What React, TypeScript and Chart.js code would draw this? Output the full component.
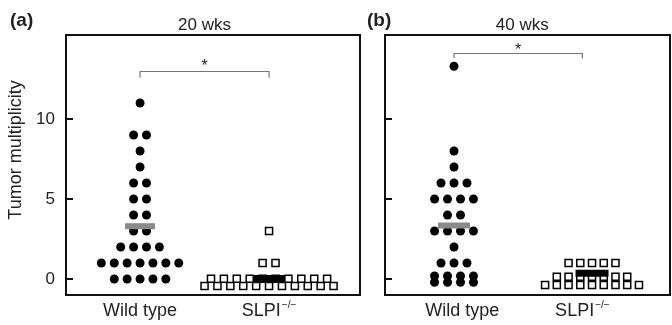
import React, { useEffect, useRef } from "react";
import { Chart, registerables } from "chart.js";

Chart.register(...registerables);

const FONT = "'Liberation Sans', Arial, Helvetica, sans-serif";

// ---------------- data ----------------
const groupLabels = ["Wild type", "SLPI"];
const groupSuperscripts = ["", "\u2212/\u2212"];
const yTickValues = [0, 5, 10];
const yAxisTitle = "Tumor multiplicity";
const panelLetters = ["(a)", "(b)"];
const panelTitles = ["20 wks", "40 wks"];
const significanceMarks = ["*", "*"];

// 20 weeks
const wildType20 = [11, 9, 9, 8, 7, 6, 6, 5, 5, 4, 4, 3, 3, 2, 2, 2, 2, 1, 1, 1, 1, 1, 1, 1, 0, 0, 0, 0, 0];
const slpi20 = [3, 1, 1, 0, 0, 0, 0, 0, 0, 0, 0, 0, 0, 0, 0, 0, 0, 0, 0, 0, 0, 0, 0, 0];
const wildType20Mean = 3.3;
const slpi20Mean = 0.03;

// 40 weeks
const wildType40 = [13.3, 8, 7, 6, 6, 6, 5, 5, 5, 5, 4, 4, 3, 3, 3, 3, 2, 1, 1, 1, 0, 0, 0, 0, 0, 0, 0, 0];
const slpi40 = [1, 1, 1, 1, 1, 0, 0, 0, 0, 0, 0, 0, 0, 0, 0, 0, 0, 0, 0, 0, 0];
const wildType40Mean = 3.35;
const slpi40Mean = 0.36;

// ---------------- layout helpers ----------------
type Pt = { x: number; y: number };

function swarm(values: number[], center: number, step: number, maxPerRow: number, splitDy: [number, number]): Pt[] {
  const counts = new Map<number, number>();
  for (const v of values) counts.set(v, (counts.get(v) ?? 0) + 1);
  const pts: Pt[] = [];
  counts.forEach((n, v) => {
    const rows = n > maxPerRow
      ? [{ n: n - maxPerRow, dy: splitDy[0] }, { n: maxPerRow, dy: splitDy[1] }]
      : [{ n, dy: 0 }];
    for (const r of rows) {
      for (let i = 0; i < r.n; i++) {
        pts.push({ x: center + (i - (r.n - 1) / 2) * step, y: v + r.dy });
      }
    }
  });
  return pts;
}

type PanelCfg = {
  idx: number;
  wt: number[];
  slpi: number[];
  wtMean: number;
  slpiMean: number;
  xMin: number;
  xMax: number;
  labelX: number[];
  bracketX: [number, number];
  bracketY: number;
  bracketDrop: number;
  starY: number;
  dotStep: number;
  squareStep: number;
  wtMax: number;
  slpiMax: number;
  wtSplit: [number, number];
  slpiSplit: [number, number];
  wtBarR: number;
  slpiBarR: number;
  canvasLeft: number;
  canvasWidth: number;
  areaLeft: number;
  areaRight: number;
  letterX: number;
  showTickLabels: boolean;
};

const panels: PanelCfg[] = [
  {
    idx: 0,
    wt: wildType20,
    slpi: slpi20,
    wtMean: wildType20Mean,
    slpiMean: slpi20Mean,
    xMin: 0.426,
    xMax: 2.705,
    labelX: [1, 2],
    bracketX: [1, 2],
    bracketY: 13,
    bracketDrop: 0.42,
    starY: 13.6,
    dotStep: 0.1,
    squareStep: 0.1,
    wtMax: 7,
    slpiMax: 11,
    wtSplit: [0.2, -0.2],
    slpiSplit: [0.02, -0.44],
    wtBarR: 15,
    slpiBarR: 16,
    canvasLeft: 0,
    canvasWidth: 362,
    areaLeft: 66,
    areaRight: 360,
    letterX: 10,
    showTickLabels: true,
  },
  {
    idx: 1,
    wt: wildType40,
    slpi: slpi40,
    wtMean: wildType40Mean,
    slpiMean: slpi40Mean,
    xMin: 0.5,
    xMax: 2.565,
    labelX: [1.06, 1.93],
    bracketX: [1, 1.93],
    bracketY: 14.14,
    bracketDrop: 0.34,
    starY: 14.6,
    dotStep: 0.094,
    squareStep: 0.085,
    wtMax: 4,
    slpiMax: 9,
    wtSplit: [0.19, -0.2],
    slpiSplit: [0.14, -0.37],
    wtBarR: 16,
    slpiBarR: 16.5,
    canvasLeft: 362,
    canvasWidth: 310,
    areaLeft: 23,
    areaRight: 308,
    letterX: 5,
    showTickLabels: false,
  },
];

const AREA_TOP = 35;
const AREA_BOTTOM = 295;
const CANVAS_H = 325;

function Panel({ cfg }: { cfg: PanelCfg }) {
  const ref = useRef<HTMLCanvasElement>(null);

  useEffect(() => {
    const canvas = ref.current;
    if (!canvas) return;
    const wtPts = swarm(cfg.wt, 1, cfg.dotStep, cfg.wtMax, cfg.wtSplit);
    const slpiPts = swarm(cfg.slpi, 2, cfg.squareStep, cfg.slpiMax, cfg.slpiSplit);

    const deco = {
      id: "deco" + cfg.idx,
      afterDraw(chart: any) {
        const { ctx, chartArea: a, scales } = chart;
        const x = scales.x;
        const y = scales.y;
        ctx.save();
        // frame
        ctx.strokeStyle = "#111";
        ctx.lineWidth = 2;
        ctx.strokeRect(a.left, a.top, a.right - a.left, a.bottom - a.top);
        // inward ticks
        for (const t of yTickValues) {
          const py = Math.round(y.getPixelForValue(t));
          ctx.beginPath();
          ctx.moveTo(a.left, py);
          ctx.lineTo(a.left + 7, py);
          ctx.stroke();
        }
        // significance bracket
        const bx0 = x.getPixelForValue(cfg.bracketX[0]);
        const bx1 = x.getPixelForValue(cfg.bracketX[1]);
        const by = Math.round(y.getPixelForValue(cfg.bracketY)) + 0.5;
        const byd = y.getPixelForValue(cfg.bracketY - cfg.bracketDrop);
        ctx.strokeStyle = "#777";
        ctx.lineWidth = 1.2;
        ctx.beginPath();
        ctx.moveTo(bx0, byd);
        ctx.lineTo(bx0, by);
        ctx.lineTo(bx1, by);
        ctx.lineTo(bx1, byd);
        ctx.stroke();
        // star
        ctx.fillStyle = "#222";
        ctx.font = `16px ${FONT}`;
        ctx.textAlign = "center";
        ctx.textBaseline = "alphabetic";
        const starPy = y.getPixelForValue(cfg.starY);
        ctx.fillText(significanceMarks[cfg.idx], (bx0 + bx1) / 2, starPy + 0.58 * 16);

        // group labels
        const lx0 = x.getPixelForValue(cfg.labelX[0]);
        const lx1 = x.getPixelForValue(cfg.labelX[1]);
        const baseY = 316;
        groupLabels.forEach((lab, i) => {
          const cx = i === 0 ? lx0 : lx1;
          const sup = groupSuperscripts[i];
          ctx.font = `18px ${FONT}`;
          const w1 = ctx.measureText(lab).width;
          ctx.font = `10px ${FONT}`;
          const w2 = sup ? ctx.measureText(sup).width + 1 : 0;
          const start = cx - (w1 + w2) / 2;
          ctx.textAlign = "left";
          ctx.font = `18px ${FONT}`;
          ctx.fillText(lab, start, baseY);
          if (sup) {
            ctx.font = `10px ${FONT}`;
            ctx.fillText(sup, start + w1 + 1, baseY - 8);
          }
        });

        // panel title
        ctx.textAlign = "center";
        ctx.font = `17px ${FONT}`;
        ctx.fillText(panelTitles[cfg.idx], (lx0 + lx1) / 2, 30);

        // panel letter
        ctx.textAlign = "left";
        ctx.font = `bold 19px ${FONT}`;
        ctx.fillText(panelLetters[cfg.idx], cfg.letterX, 26);

        // y axis title
        if (cfg.showTickLabels) {
          ctx.save();
          ctx.translate(21, 150);
          ctx.rotate(-Math.PI / 2);
          ctx.textAlign = "center";
          ctx.font = `18px ${FONT}`;
          ctx.fillText(yAxisTitle, 0, 0);
          ctx.restore();
        }
        ctx.restore();
      },
    };

    const chart = new Chart(canvas, {
      type: "scatter",
      data: {
        datasets: [
          {
            data: [{ x: 1, y: cfg.wtMean }],
            pointStyle: "line",
            pointRadius: cfg.wtBarR,
            pointBorderWidth: 6,
            pointBorderColor: "#8a8a8a",
            pointBackgroundColor: "#8a8a8a",
            order: 0,
          },
          {
            data: [{ x: 2, y: cfg.slpiMean }],
            pointStyle: "line",
            pointRadius: cfg.slpiBarR,
            pointBorderWidth: 7,
            pointBorderColor: "#000",
            pointBackgroundColor: "#000",
            order: 0,
          },
          {
            data: wtPts,
            pointStyle: "circle",
            pointRadius: 4.5,
            pointBorderWidth: 0,
            pointBackgroundColor: "#000",
            pointBorderColor: "#000",
            order: 1,
          },
          {
            data: slpiPts,
            pointStyle: "rect",
            pointRadius: 5,
            pointBorderWidth: 1.5,
            pointBackgroundColor: "#fff",
            pointBorderColor: "#000",
            order: 2,
          },
        ] as any,
      },
      options: {
        animation: false,
        responsive: false,
        maintainAspectRatio: false,
        events: [],
        layout: {
          autoPadding: false,
          padding: {
            left: cfg.showTickLabels ? 0 : cfg.areaLeft,
            right: cfg.canvasWidth - cfg.areaRight,
            top: AREA_TOP,
            bottom: CANVAS_H - AREA_BOTTOM,
          },
        },
        plugins: {
          legend: { display: false },
          tooltip: { enabled: false },
          title: { display: false },
        },
        scales: {
          x: {
            type: "linear",
            min: cfg.xMin,
            max: cfg.xMax,
            display: false,
            ticks: { display: false },
            afterFit: (s: any) => {
              s.paddingLeft = 0;
              s.paddingRight = 0;
              s.height = 0;
            },
          },
          y: {
            type: "linear",
            min: -1,
            max: 15.25,
            display: cfg.showTickLabels,
            afterBuildTicks: (s: any) => {
              s.ticks = yTickValues.map((v) => ({ value: v }));
            },
            afterFit: (s: any) => {
              s.width = cfg.showTickLabels ? cfg.areaLeft : 0;
              s.paddingTop = 0;
              s.paddingBottom = 0;
            },
            grid: { display: false, drawTicks: false },
            border: { display: false },
            ticks: {
              display: cfg.showTickLabels,
              padding: 11,
              color: "#222",
              font: { family: FONT, size: 17 },
            },
          },
        },
      } as any,
      plugins: [deco],
    });
    return () => chart.destroy();
  }, [cfg]);

  return (
    <canvas
      ref={ref}
      width={cfg.canvasWidth}
      height={CANVAS_H}
      style={{ position: "absolute", left: cfg.canvasLeft, top: 0, width: cfg.canvasWidth, height: CANVAS_H, display: "block" }}
    />
  );
}

export default function App() {
  return (
    <div style={{ position: "fixed", left: 0, top: 0, width: 672, height: CANVAS_H, background: "#fff", overflow: "hidden" }}>
      {panels.map((p) => (
        <Panel key={p.idx} cfg={p} />
      ))}
    </div>
  );
}
